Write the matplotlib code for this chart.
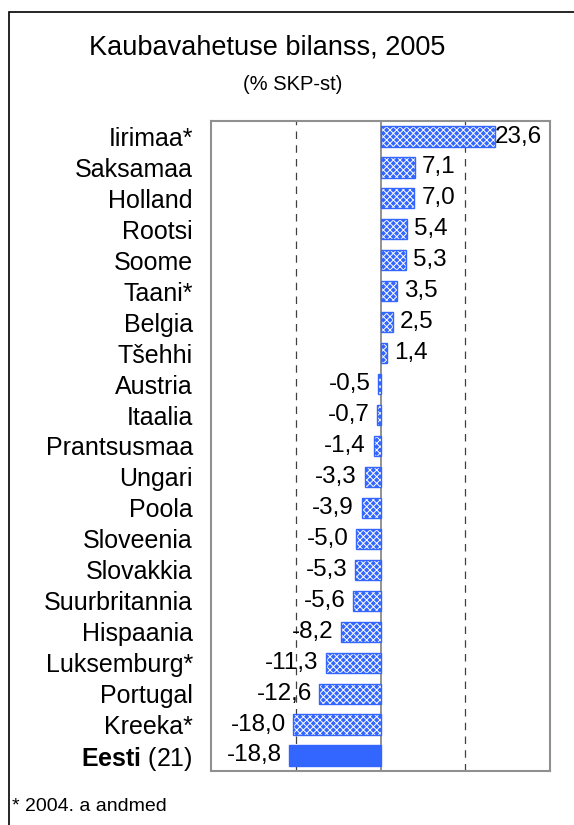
import matplotlib
matplotlib.use('Agg')
import matplotlib.pyplot as plt
from matplotlib.patches import Rectangle

# Data (top to bottom as in the chart)
countries = ['Iirimaa*', 'Saksamaa', 'Holland', 'Rootsi', 'Soome', 'Taani*', 'Belgia',
             'Tšehhi', 'Austria', 'Itaalia', 'Prantsusmaa', 'Ungari', 'Poola',
             'Sloveenia', 'Slovakkia', 'Suurbritannia', 'Hispaania', 'Luksemburg*',
             'Portugal', 'Kreeka*', r'$\mathbf{Eesti}$ (21)']
values = [23.6, 7.1, 7.0, 5.4, 5.3, 3.5, 2.5, 1.4, -0.5, -0.7, -1.4, -3.3, -3.9,
          -5.0, -5.3, -5.6, -8.2, -11.3, -12.6, -18.0, -18.8]
highlight = 'Eesti'

plt.rcParams['font.family'] = ['Liberation Sans', 'DejaVu Sans']
plt.rcParams['mathtext.fontset'] = 'custom'
plt.rcParams['mathtext.bf'] = 'Liberation Sans:bold'
plt.rcParams['mathtext.rm'] = 'Liberation Sans'
plt.rcParams['hatch.linewidth'] = 0.7

blue = '#3366FF'

fig = plt.figure(figsize=(5.74, 8.25), dpi=100)
ax = fig.add_axes([0.3676, 0.0655, 0.5906, 0.7878])

y = list(range(len(countries)))[::-1]
xmax = 35

for yi, v, name in zip(y, values, countries):
    if highlight in name:
        ax.barh(yi, v, height=0.65, color=blue, edgecolor=blue, linewidth=1, zorder=3)
    else:
        # checkered fill, then blue outline
        ax.barh(yi, v, height=0.65, color=blue, edgecolor='white', hatch='xxxxx',
                linewidth=0, zorder=3)
        ax.barh(yi, v, height=0.65, fill=False, edgecolor=blue, linewidth=1, zorder=4)
    label = f'{v:.1f}'.replace('.', ',')
    if v >= 0:
        # label pushed back inside the plot area when it would overflow
        off = 0 if v > 20 else 5
        ax.annotate(label, (v, yi), xytext=(off, 0), textcoords='offset points',
                    ha='left', va='center', fontsize=17.5, zorder=5)
    else:
        ax.annotate(label, (v, yi), xytext=(-5.5, 0), textcoords='offset points',
                    ha='right', va='center', fontsize=17.5, zorder=5)

ax.set_xlim(-xmax, xmax)
ax.set_ylim(-0.5, len(countries) - 0.5)
ax.set_xticks([])
ax.set_yticks(y)
ax.set_yticklabels(countries, fontsize=18)
ax.tick_params(axis='y', length=0, pad=13)

ax.axvline(0, color='#808080', linewidth=1.2, zorder=2)
for gx in (-17.5, 17.5):
    ax.axvline(gx, color='#404040', linewidth=0.9, linestyle=(0, (6, 5)), zorder=1)

for s in ax.spines.values():
    s.set_color('#909090')
    s.set_linewidth(1.5)

# outer frame
fig.patches.append(Rectangle((0.0157, -0.05), 1.1, 1.0355, transform=fig.transFigure,
                             fill=False, edgecolor='black', linewidth=1.2, zorder=0))

fig.text(0.466, 0.942, 'Kaubavahetuse bilanss, 2005', ha='center', va='center', fontsize=19.5)
fig.text(0.51, 0.897, '(% SKP-st)', ha='center', va='center', fontsize=14.5)
fig.text(0.021, 0.022, '* 2004. a andmed', ha='left', va='center', fontsize=14)

fig.savefig('out.png', dpi=100)
